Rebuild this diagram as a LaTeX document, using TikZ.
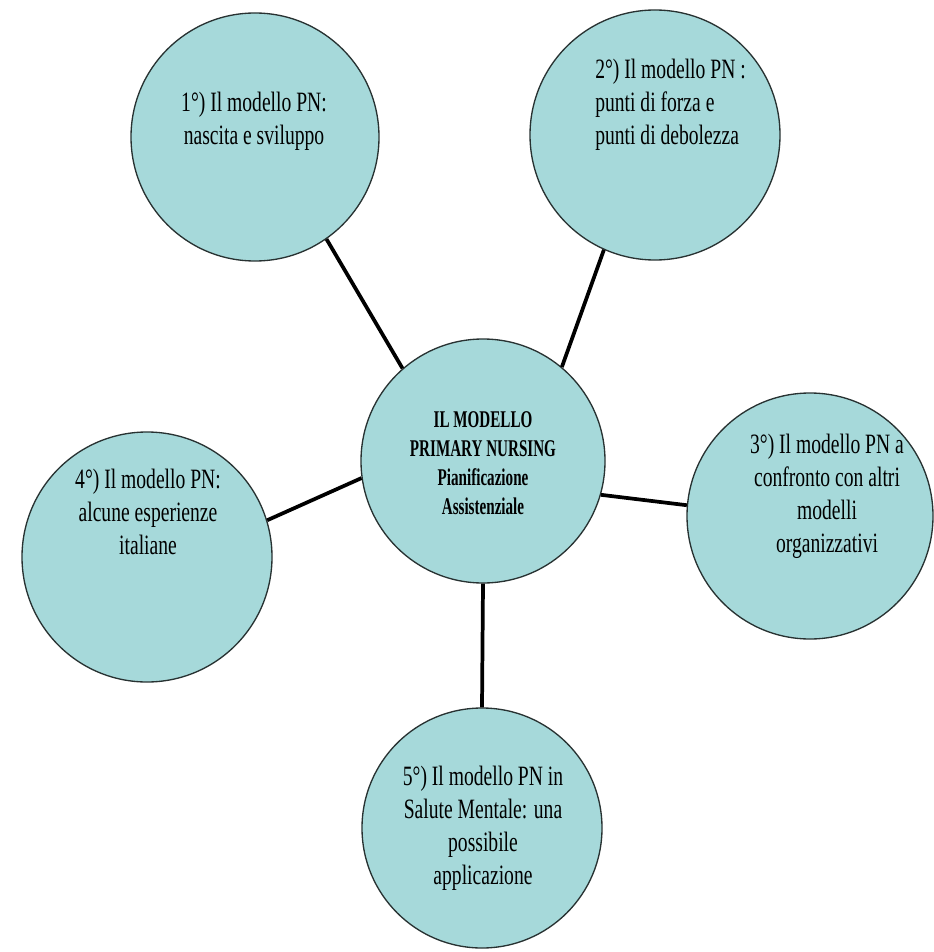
\documentclass[tikz,border=0pt]{standalone}
\usepackage{fontspec}
\setmainfont[FakeStretch=0.7]{Liberation Serif}
\newfontfamily\hubfont[FakeStretch=0.63]{Liberation Serif}
\definecolor{bubble}{RGB}{166,217,218}
\definecolor{rim}{RGB}{40,50,50}
\begin{document}
\begin{tikzpicture}[x=0.75pt,y=-0.75pt,
  bubblenode/.style={circle,draw=rim,line width=1pt,fill=bubble,inner sep=0pt},
  outertext/.style={font=\fontsize{21pt}{24.75pt}\selectfont,align=center,inner sep=0pt},
  centertext/.style={font=\hubfont\fontsize{18pt}{21.75pt}\selectfont\bfseries,align=center,inner sep=0pt},
  link/.style={line width=2.8pt,black}]
\useasboundingbox (0,0) rectangle (934,952);
% circles
\node[bubblenode,minimum size=186pt] (c1) at (255,137) {};
\node[bubblenode,minimum size=187.5pt] (c2) at (655,135) {};
\node[bubblenode,minimum size=183pt] (c0) at (483,461) {};
\node[bubblenode,minimum size=184.5pt] (c3) at (810,516) {};
\node[bubblenode,minimum size=187.5pt] (c4) at (147,557) {};
\node[bubblenode,minimum size=180pt] (c5) at (482,828) {};
% connectors
\draw[link] (c1.305) -- (c0.131);
\draw[link] (c2.246) -- (c0.50);
\draw[link] (c0.344) -- (c3.175);
\draw[link] (c4.17) -- (c0.188);
\draw[link] (c0.270) -- (c5.90);
% texts
\node[outertext] (t1) at (254,121) {1°) Il modello PN:\\nascita e sviluppo};
\node[outertext,align=left,anchor=west] (t2) at (595,105) {2°) Il modello PN :\\punti di forza e\\punti di debolezza};
\node[centertext] (t0) at (483,463) {IL MODELLO\\PRIMARY NURSING\\Pianificazione\\Assistenziale};
\node[outertext] (t3) at (827,496) {3°) Il modello PN a\\confronto con altri\\modelli\\organizzativi};
\node[outertext] (t4) at (148,512) {4°) Il modello PN:\\alcune esperienze\\italiane};
\node[outertext] (t5) at (483,828) {5°) Il modello PN in\\Salute Mentale: una\\possibile\\applicazione};
\end{tikzpicture}
\end{document}
